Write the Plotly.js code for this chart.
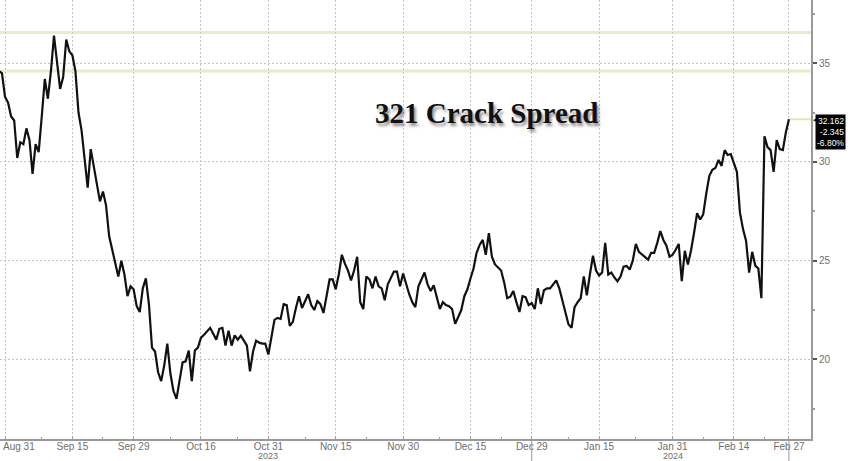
<!DOCTYPE html>
<html>
<head>
<meta charset="utf-8">
<script src="https://cdn.plot.ly/plotly-3.0.1.min.js"></script>
<style>html,body{margin:0;padding:0;background:#fff;}#chart{width:848px;height:461px;}</style>
</head>
<body>
<div id="chart"></div>
<script>
// Business days shown on the chart (weekday axis, holidays included)
const days = [
"2023-08-30","2023-08-31",
"2023-09-01","2023-09-04","2023-09-05","2023-09-06","2023-09-07","2023-09-08","2023-09-11","2023-09-12","2023-09-13","2023-09-14","2023-09-15","2023-09-18","2023-09-19","2023-09-20","2023-09-21","2023-09-22","2023-09-25","2023-09-26","2023-09-27","2023-09-28","2023-09-29",
"2023-10-02","2023-10-03","2023-10-04","2023-10-05","2023-10-06","2023-10-09","2023-10-10","2023-10-11","2023-10-12","2023-10-13","2023-10-16","2023-10-17","2023-10-18","2023-10-19","2023-10-20","2023-10-23","2023-10-24","2023-10-25","2023-10-26","2023-10-27","2023-10-30","2023-10-31",
"2023-11-01","2023-11-02","2023-11-03","2023-11-06","2023-11-07","2023-11-08","2023-11-09","2023-11-10","2023-11-13","2023-11-14","2023-11-15","2023-11-16","2023-11-17","2023-11-20","2023-11-21","2023-11-22","2023-11-23","2023-11-24","2023-11-27","2023-11-28","2023-11-29","2023-11-30",
"2023-12-01","2023-12-04","2023-12-05","2023-12-06","2023-12-07","2023-12-08","2023-12-11","2023-12-12","2023-12-13","2023-12-14","2023-12-15","2023-12-18","2023-12-19","2023-12-20","2023-12-21","2023-12-22","2023-12-25","2023-12-26","2023-12-27","2023-12-28","2023-12-29",
"2024-01-01","2024-01-02","2024-01-03","2024-01-04","2024-01-05","2024-01-08","2024-01-09","2024-01-10","2024-01-11","2024-01-12","2024-01-15","2024-01-16","2024-01-17","2024-01-18","2024-01-19","2024-01-22","2024-01-23","2024-01-24","2024-01-25","2024-01-26","2024-01-29","2024-01-30","2024-01-31",
"2024-02-01","2024-02-02","2024-02-05","2024-02-06","2024-02-07","2024-02-08","2024-02-09","2024-02-12","2024-02-13","2024-02-14","2024-02-15","2024-02-16","2024-02-19","2024-02-20","2024-02-21","2024-02-22","2024-02-23","2024-02-26","2024-02-27"
];
// Two readings per day (00:00 and 12:00), last one = Feb 27 00:00
const spread = [
34.6,34.5,33.3,33.0,32.3,32.1,30.2,31.0,30.9,31.7,31.1,29.4,30.9,30.5,32.3,34.2,33.2,34.6,36.4,35.0,
33.7,34.3,36.2,35.6,35.4,34.6,32.5,31.6,30.0,28.7,30.65,29.8,29.0,28.0,28.5,27.8,26.25,25.6,25.0,24.2,
25.0,24.3,23.2,23.7,23.55,22.7,22.4,23.6,24.1,22.8,20.6,20.4,19.35,18.9,19.7,20.8,19.3,18.4,18.0,19.0,
19.85,19.9,20.45,18.9,20.45,20.6,21.1,21.25,21.4,21.6,21.3,21.0,21.55,21.6,20.7,21.45,20.7,21.22,21.0,21.2,
20.95,20.7,19.4,20.4,20.95,20.85,20.8,20.8,20.25,21.2,22.0,22.1,22.05,22.8,22.75,21.7,21.9,22.6,23.2,22.6,
22.96,23.3,22.75,22.5,22.96,22.8,22.35,23.2,24.05,24.05,23.55,24.3,25.3,24.85,24.5,24.0,24.5,25.2,22.9,22.55,
24.2,24.05,23.6,24.2,23.7,23.6,23.0,23.8,24.1,24.45,24.45,23.7,24.35,23.8,23.3,22.9,22.65,23.7,24.05,24.4,
23.8,23.46,23.75,23.2,22.55,22.9,22.75,22.7,22.55,21.8,22.2,22.5,23.2,23.55,24.1,24.6,25.4,25.8,26.05,25.3,
26.4,25.2,24.81,24.65,24.5,23.9,23.1,23.18,23.46,22.9,22.4,23.2,23.15,22.75,22.85,22.55,23.6,22.8,23.5,23.6,
23.6,23.8,24.0,23.6,23.0,22.4,21.78,21.6,22.65,22.9,23.1,24.2,23.25,24.3,25.25,24.5,24.25,24.4,25.9,24.3,
24.4,24.15,23.95,24.2,24.7,24.73,24.55,25.0,25.85,25.45,25.3,25.15,25.05,25.4,25.4,25.9,26.5,26.05,25.76,25.2,
25.3,25.55,25.85,23.96,25.5,24.8,25.5,26.4,27.4,27.09,27.34,28.4,29.3,29.6,29.7,30.1,29.8,30.6,30.35,30.4,
29.9,29.5,27.43,26.6,26.0,24.4,25.45,24.75,24.6,23.1,31.3,30.75,30.6,29.5,31.1,30.65,30.6,31.5,32.162
];
const tickDates = ["2023-08-31","2023-09-15","2023-09-29","2023-10-16","2023-10-31","2023-11-15","2023-11-30","2023-12-15","2023-12-29","2024-01-15","2024-01-31","2024-02-14","2024-02-27"];
const tickLabels = ["","Sep 15","Sep 29","Oct 16","Oct 31","Nov 15","Nov 30","Dec 15","Dec 29","Jan 15","Jan 31","Feb 14","Feb 27"];
const firstLabel = "Aug 31";
const yearDates = ["2023-10-31","2024-01-31"];
const yearLabels = ["2023","2024"];
const minorDates = ["2023-09-08","2023-09-22","2023-10-09","2023-10-24","2023-11-08","2023-11-22","2023-12-08","2023-12-22","2024-01-08","2024-01-23","2024-02-07","2024-02-21"];
const yTicks = [20,25,30,35];
const yMinor = [17.5,22.5,27.5,32.5,37.5];
const refLevels = [36.55, 34.6];
const lastChange = "-2.345";
const lastPct = "-6.80%";
const separatorDates = ["2023-12-29","2024-02-27"];
const xRange = ["2023-08-30 04:25","2024-03-01 14:24"];

const times = [];
days.forEach(d => { times.push(d + " 00:00"); times.push(d + " 12:00"); });
const x = times.slice(0, spread.length);
const lastVal = spread[spread.length - 1];
const lastX = x[x.length - 1];

const lab = {family:"Liberation Sans, Arial, sans-serif", size:10, color:"#6e6e6e"};
const labSmall = {family:"Liberation Sans, Arial, sans-serif", size:9, color:"#6e6e6e"};

const shapes = [];
refLevels.forEach(v => shapes.push({type:"line", xref:"paper", x0:0, x1:1, yref:"y", y0:v, y1:v,
  line:{color:"rgba(218,224,165,0.6)", width:3}, layer:"below"}));
shapes.push({type:"line", xref:"x", x0:lastX, x1:xRange[1], yref:"y", y0:lastVal, y1:lastVal,
  line:{color:"rgba(218,224,165,0.8)", width:2}, layer:"below"});
separatorDates.forEach(d => shapes.push({type:"line", xref:"x", x0:d, x1:d, yref:"paper", y0:0, y1:-0.06,
  line:{color:"#9a9a9a", width:1}}));

const trace = {
  x: x, y: spread, type:"scatter", mode:"lines",
  line:{color:"#111111", width:2.2}, hoverinfo:"skip"
};

const annotations = [
  {text:"321 Crack Spread", xref:"paper", yref:"paper", x:0.600, y:0.743, xanchor:"center", yanchor:"middle",
   showarrow:false,
   font:{family:"Liberation Serif, Times New Roman, serif", size:29, color:"#111111", weight:"bold",
         shadow:"2px 3px 3px rgba(0,0,0,0.45)"}},
  {text:lastVal.toFixed(3) + "<br>" + lastChange + "<br>" + lastPct,
   xref:"paper", yref:"y", x:1, y:lastVal, xanchor:"left", yanchor:"top", xshift:4, yshift:5,
   showarrow:false, bgcolor:"#000000", borderpad:1, align:"right",
   font:{family:"Liberation Sans, Arial, sans-serif", size:8.5, color:"#ffffff"}},
  {text:"◀", xref:"paper", yref:"y", x:1, y:lastVal, xanchor:"left", yanchor:"middle", xshift:0,
   showarrow:false, font:{size:7, color:"#000000"}},
  {text:firstLabel, xref:"paper", yref:"paper", x:0, y:0, xanchor:"left", yanchor:"top", xshift:1, yshift:0,
   showarrow:false, font:lab}
];
yearDates.forEach((d, i) => annotations.push({text:yearLabels[i], xref:"x", yref:"paper", x:d, y:0,
  xanchor:"center", yanchor:"top", yshift:-10, showarrow:false, font:labSmall}));

const layout = {
  width:848, height:461,
  margin:{l:0, r:37, t:0, b:22},
  paper_bgcolor:"#ffffff", plot_bgcolor:"#ffffff",
  showlegend:false,
  font:lab,
  xaxis:{
    type:"date", range:xRange,
    rangebreaks:[{bounds:["sat","mon"]}],
    tickmode:"array", tickvals:tickDates, ticktext:tickLabels,
    ticks:"inside", ticklen:3, tickcolor:"#9a9a9a", tickwidth:1,
    ticklabelstandoff:-3,
    showgrid:true, gridcolor:"#c4c4c4", griddash:"2px,2px", gridwidth:1,
    minor:{tickmode:"array", tickvals:minorDates, ticks:"inside", ticklen:2, tickcolor:"#9a9a9a", showgrid:false},
    showline:true, linecolor:"#9a9a9a", linewidth:2,
    zeroline:false, fixedrange:true,
    tickfont:lab
  },
  yaxis:{
    side:"right", range:[15.97, 38.2],
    tickmode:"array", tickvals:yTicks, ticktext:yTicks.map(String),
    ticks:"outside", ticklen:4, tickcolor:"#555", tickwidth:2,
    showgrid:true, gridcolor:"#c4c4c4", griddash:"2px,2px", gridwidth:1,
    minor:{tickmode:"array", tickvals:yMinor, ticks:"outside", ticklen:2, tickcolor:"#9a9a9a", showgrid:false},
    showline:true, linecolor:"#9a9a9a", linewidth:2,
    zeroline:false, fixedrange:true,
    tickfont:lab
  },
  shapes:shapes,
  annotations:annotations
};

Plotly.newPlot("chart", [trace], layout, {displayModeBar:false, staticPlot:true});
</script>
</body>
</html>
